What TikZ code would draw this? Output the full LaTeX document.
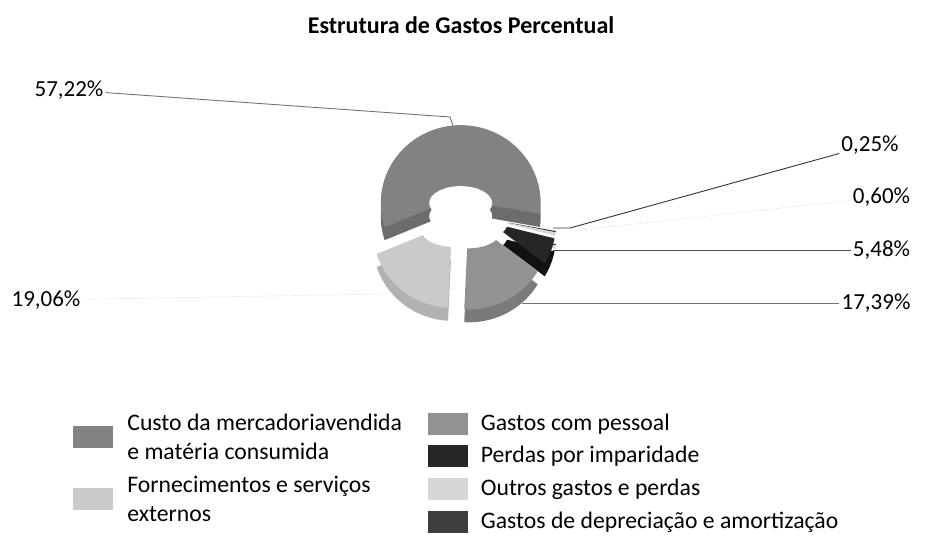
\documentclass[tikz,border=0pt]{standalone}
\usepackage{fontspec}
\setmainfont{Carlito}
\usetikzlibrary{positioning}

\definecolor{custo}{HTML}{828282}
\definecolor{custoside}{HTML}{6C6C6C}
\definecolor{forn}{HTML}{CACACA}
\definecolor{fornside}{HTML}{B2B2B2}
\definecolor{pessoal}{HTML}{929292}
\definecolor{pessoalside}{HTML}{7A7A7A}
\definecolor{perdas}{HTML}{262626}
\definecolor{perdasside}{HTML}{111111}
\definecolor{outros}{HTML}{D6D6D6}
\definecolor{deprec}{HTML}{3E3E3E}

% ring part: start angle, end angle, shift x, shift y
\newcommand{\ringpart}[4]{plot[domain=#1:#2,samples=40] ({462+#3+80*cos(\x)},{218+#4-78*sin(\x)}) -- plot[domain=#2:#1,samples=40] ({462+#3+31.5*cos(\x)},{218+#4-17*sin(\x)}) -- cycle}

\begin{document}
\begin{tikzpicture}[x=1pt, y=-1pt,
                pct_label/.style={font=\fontsize{23}{27}\selectfont, inner sep=2pt},
                legend_box/.style={minimum width=40pt, minimum height=22pt, inner sep=0pt},
                legend_text/.style={font=\fontsize{23.7}{29.5}\selectfont, align=left, inner sep=0pt},
                leader_line/.style={draw=black!55, line width=0.9pt},
                faint_line/.style={draw=black!12, line width=0.8pt, densely dotted}]
                \useasboundingbox (0,0) rectangle (936,538);
                \node[font=\bfseries\fontsize{24}{28}\selectfont] (title) at (461,25) {Estrutura de Gastos Percentual};

                % donut
                \fill[custoside] \ringpart{-8}{198}{-1.3}{-1.9};
                \fill[custo] \ringpart{-8}{198}{-1.3}{-14.9};
                \fill[white] (460.7,203.1) ellipse [x radius=31.5, y radius=17];
                \fill[deprec] \ringpart{351.1}{352}{14.8}{15.2};
                \fill[deprec] \ringpart{351.1}{352}{14.8}{2.2};
                \fill[outros] \ringpart{348.9}{351.1}{14.8}{15.6};
                \fill[outros] \ringpart{348.9}{351.1}{14.8}{2.6};
                \fill[perdasside] \ringpart{329.2}{348.9}{14}{18.4};
                \fill[perdas] \ringpart{329.2}{348.9}{14}{5.4};
                \fill[fornside] \ringpart{198}{266.6}{-9.2}{24.9};
                \fill[forn] \ringpart{198}{266.6}{-9.2}{11.9};
                \fill[pessoalside] \ringpart{266.6}{329.2}{7}{26.3};
                \fill[pessoal] \ringpart{266.6}{329.2}{7}{13.3};

                \coordinate (custo_end) at (453,126);
                \coordinate (custo_bend) at (450,117);
                \coordinate (deprec_end) at (553,228);
                \coordinate (deprec_bend) at (570,228);
                \coordinate (outros_end) at (572,231);
                \coordinate (perdas_end) at (553,250);
                \coordinate (pessoal_end) at (522,303);
                \coordinate (forn_end) at (383,294);

                % labels
                \node[pct_label] (l5722) at (69,90) {57,22\%};
                \node[pct_label] (l025) at (870,145) {0,25\%};
                \node[pct_label] (l060) at (881.5,197) {0,60\%};
                \node[pct_label] (l548) at (881.5,250) {5,48\%};
                \node[pct_label] (l1739) at (876,303) {17,39\%};
                \node[pct_label] (l1906) at (46,300) {19,06\%};

                \draw[leader_line] (l5722) -- (custo_bend) -- (custo_end);
                \draw[leader_line, draw=black!80] (deprec_end) -- (deprec_bend) -- (l025);
                \draw[faint_line] (outros_end) -- (l060);
                \draw[leader_line, draw=black!70] (perdas_end) -- (l548);
                \draw[leader_line] (pessoal_end) -- (l1739);
                \draw[faint_line] (l1906) -- (forn_end);

                % legend
                \node[legend_box, fill=custo] (kcusto) at (93,437) {};
                \node[legend_text, right=14pt of kcusto] (tcusto) {Custo da mercadoriavendida\\e matéria consumida};
                \node[legend_box, fill=forn] (kforn) at (93,499) {};
                \node[legend_text, right=14pt of kforn] (tforn) {Fornecimentos e serviços\\externos};
                \node[legend_box, fill=pessoal] (kpessoal) at (447.5,424) {};
                \node[legend_text, right=13pt of kpessoal] (tpessoal) {Gastos com pessoal};
                \node[legend_box, fill=perdas] (kperdas) at (447.5,456) {};
                \node[legend_text, right=13pt of kperdas] (tperdas) {Perdas por imparidade};
                \node[legend_box, fill=outros] (koutros) at (447.5,489) {};
                \node[legend_text, right=13pt of koutros] (toutros) {Outros gastos e perdas};
                \node[legend_box, fill=deprec] (kdeprec) at (447.5,522) {};
                \node[legend_text, right=13pt of kdeprec] (tdeprec) {Gastos de depreciação e amortização};
            \end{tikzpicture}
\end{document}
